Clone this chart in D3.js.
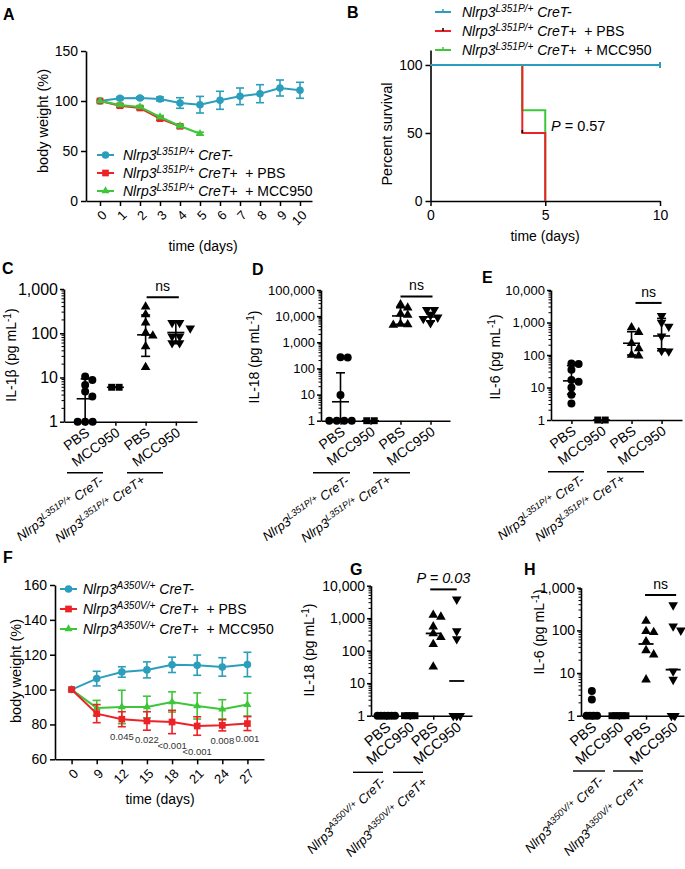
<!DOCTYPE html>
<html><head><meta charset="utf-8">
<script src="https://cdn.jsdelivr.net/npm/d3@7"></script>
<style>body{margin:0;background:#fff}svg{display:block}</style>
</head><body><svg id="fig" width="685" height="869"></svg>
<script>
const FONT="'Liberation Sans', Arial, Helvetica, sans-serif";
const CYAN="#2b9ebb", RED="#ec2226", GREEN="#3ec63a";

// ---------------- DATA ----------------
// Panel A  (body weight, %)
const daysA=[0,1,2,3,4,5,6,7,8,9,10];
const wA_neg=[100,102.7,103,102,98,96.3,100.7,104.7,107.3,113,110.7];
const sdA_neg=[0,1.2,1.2,2,5.3,8.3,9,8.3,9,8,8];
const wA_pbs=[100,95.3,93,82.3,74.7];
const sdA_pbs=[0,1.5,1.5,1.5,1.5];
const wA_mcc=[100,96,94,84,75,67.3];
const sdA_mcc=[0,1,1,1.5,1.5,1.5];
// Panel B (survival)
const tB_neg=[0,10], sB_neg=[100,100];
const tB_pbs=[0,4,5], sB_pbs=[100,50,0];
const tB_mcc=[0,4,5], sB_mcc=[100,66.7,0];
const ticksB_x=[0,5,10], ticksB_y=[0,50,100];
// x categories for cytokine panels
const catsX=["PBS","MCC950","PBS","MCC950"];
// Panel C IL-1b
const c_pbsNeg=[10.5,8.8,6.8,4.8,3.7,1,1,1];
const c_mccNeg=[6,6];
const c_pbsPos=[398,265,172,102,88,50,17];
const c_mccPos=[172,172,130,85,85,60,60];
const c_mean=[3.3,6,92,104], c_lo=[1,6,30,58], c_hi=[9.3,6,258,178];
// Panel D IL-18
const d_pbsNeg=[270,260,9.6,1,1,1,1];
const d_mccNeg=[1,1];
const d_pbsPos=[28000,21000,12400,11000,5000,4600,4800];
const d_mccPos=[17700,17700,10800,9000,8000,5500];
const d_mean=[5.3,1,10200,9300], d_lo=[1,1,4900,6600], d_hi=[68,1,21000,13800];
// Panel E IL-6
const e_pbsNeg=[55,53,35,17,15,10,6,3.2];
const e_mccNeg=[1,1];
const e_pbsPos=[700,500,230,160,100,95];
const e_mccPos=[1600,1000,750,380,135,130];
const e_mean=[16,1,230,385], e_lo=[6.2,1,100,135], e_hi=[47,1,520,1340];
// Panel F (A350V body weight)
const daysF=["0","9","12","15","18","21","24","27"];
const wF_neg=[100,106.3,110.1,111.3,114.2,114,113,114.4];
const sdF_neg=[0,4.2,3,4.6,4.4,5.8,5.3,7];
const wF_pbs=[100,86.2,83,82,81.4,79.1,79.5,80.5];
const sdF_pbs=[0,5.2,4.3,5.3,6.7,5.3,3.2,4];
const wF_mcc=[100,89.5,90,90,92.9,90.6,88.7,91.4];
const sdF_mcc=[0,4.3,9.6,6.2,5.8,7.5,5.5,6.6];
const pF=["","","0.045","0.022","<0.001","<0.001","0.008","0.001"];
const pF_at=[0,0,73.0,71.1,68.2,64.2,70.7,72.2];
// Panel G IL-18 (A350V)
const g_pbsNeg=[1,1,1,1,1,1];
const g_mccNeg=[1,1,1,1];
const g_pbsPos=[1250,1100,550,340,260,158,32];
const g_mccPos=[3800,400,230,1,1,1];
const g_median=[1,1,340,11.7];
// Panel H IL-6 (A350V)
const h_pbsNeg=[3.8,2.4,1,1,1,1];
const h_mccNeg=[1,1,1,1,1];
const h_pbsPos=[165,95,90,55,34,27,7];
const h_mccPos=[390,125,100,11,7,1,1];
const h_median=[1.15,1,48,12];

// ---------------- HELPERS ----------------
const svg=d3.select("#fig");
svg.append("rect").attr("width",685).attr("height",869).attr("fill","#fff");

function rich(sel,parts,fs){
  let shift=0;
  parts.forEach(([t,st])=>{
    const ts=sel.append("tspan").text(t);
    if(st.includes("i")) ts.attr("font-style","italic");
    const target=st.includes("s")?-fs*0.36:0;
    if(target!==shift){ts.attr("dy",target-shift);shift=target;}
    if(st.includes("s")) ts.attr("font-size",fs*0.72);
  });
}
function txt(g,x,y,fs,opts={}){
  const t=g.append("text").attr("x",x).attr("y",y).attr("font-size",fs)
    .attr("font-family",FONT).attr("fill",opts.fill||"#000");
  if(opts.anchor) t.attr("text-anchor",opts.anchor);
  if(opts.weight) t.attr("font-weight",opts.weight);
  if(opts.transform) t.attr("transform",opts.transform);
  return t;
}
function styleAxis(s,fs){
  s.attr("font-family",FONT);
  s.select(".domain").attr("stroke","#000").attr("stroke-width",1.6);
  s.selectAll(".tick line").attr("stroke","#000").attr("stroke-width",1.5);
  s.selectAll(".tick text").attr("font-size",fs||14).attr("fill","#000");
}
function rotLabels(ax,angle,dx,dy){
  ax.selectAll(".tick text").attr("x",0).attr("y",0).attr("dy",0)
    .attr("text-anchor","end").attr("transform",`translate(${dx},${dy}) rotate(${angle})`);
}
function sym(shape,size){
  const t={circle:d3.symbolCircle,square:d3.symbolSquare,tri:d3.symbolTriangle,itri:d3.symbolTriangle}[shape];
  return d3.symbol().type(t).size(size)();
}
function marker(g,shape,size,x,y,color){
  g.append("path").attr("d",sym(shape,size)).attr("fill",color)
   .attr("transform",`translate(${x},${y})${shape==="itri"?" rotate(180)":""}`);
}
function series(g,x,y,xs,ys,sd,color,shape,size){
  const line=d3.line().x((d,i)=>x(xs[i])).y(d=>y(d));
  g.append("path").datum(ys).attr("d",line).attr("fill","none").attr("stroke",color).attr("stroke-width",2);
  ys.forEach((v,i)=>{
    if(sd[i]>0){
      const cx=x(xs[i]);
      g.append("line").attr("x1",cx).attr("x2",cx).attr("y1",y(v-sd[i])).attr("y2",y(v+sd[i])).attr("stroke",color).attr("stroke-width",1.6);
      [v-sd[i],v+sd[i]].forEach(e=>g.append("line").attr("x1",cx-4).attr("x2",cx+4).attr("y1",y(e)).attr("y2",y(e)).attr("stroke",color).attr("stroke-width",1.6));
    }
  });
  ys.forEach((v,i)=>marker(g,shape,size,x(xs[i]),y(v),color));
}
const nl=(sup,suf,extra)=>{const p=[["Nlrp3","i"],[sup,"is"],[" CreT","i"],[suf,"i"]]; if(extra) p.push(["\u00a0\u00a0"+extra,"n"]); return p;};

// ---------------- PANEL A ----------------
{
  const g=svg.append("g");
  const x=d3.scaleLinear().domain([-0.7,10.6]).range([86,312]);
  const y=d3.scaleLinear().domain([0,150]).range([201,51]);
  g.append("g").attr("transform","translate(86,0)").call(d3.axisLeft(y).tickValues([0,50,100,150]).tickSize(5).tickPadding(3).tickSizeOuter(0)).call(styleAxis,14);
  const xa=g.append("g").attr("transform","translate(0,201)").call(d3.axisBottom(x).tickValues(daysA).tickSize(5).tickSizeOuter(0)).call(styleAxis,13);
  rotLabels(xa,-45,7,15);
  series(g,x,y,daysA,wA_neg,sdA_neg,CYAN,"circle",45);
  series(g,x,y,daysA.slice(0,wA_pbs.length),wA_pbs,sdA_pbs,RED,"square",45);
  series(g,x,y,daysA.slice(0,wA_mcc.length),wA_mcc,sdA_mcc,GREEN,"tri",28);
  txt(g,3,20,16,{weight:"bold"}).text("A");
  txt(g,0,0,14.5,{anchor:"middle",transform:"translate(48,121) rotate(-90)"}).text("body weight (%)");
  txt(g,203,251,14,{anchor:"middle"}).text("time (days)");
  const leg=[[CYAN,"circle",45,nl("L351P/+","-")],[RED,"square",45,nl("L351P/+","+","+ PBS")],[GREEN,"tri",28,nl("L351P/+","+","+ MCC950")]];
  leg.forEach(([c,s,sz,parts],i)=>{
    const ly=155+i*18;
    g.append("line").attr("x1",97).attr("x2",114).attr("y1",ly).attr("y2",ly).attr("stroke",c).attr("stroke-width",2);
    marker(g,s,sz,105.5,ly,c);
    rich(txt(g,123,ly+5,14),parts,14);
  });
}

// ---------------- PANEL B ----------------
{
  const g=svg.append("g");
  const x=d3.scaleLinear().domain([0,10]).range([430.5,660]);
  const y=d3.scaleLinear().domain([0,111]).range([201,50]);
  g.append("g").attr("transform","translate(430.5,0)").call(d3.axisLeft(y).tickValues(ticksB_y).tickSize(5).tickPadding(3).tickSizeOuter(0)).call(styleAxis,14);
  g.append("g").attr("transform","translate(0,201)").call(d3.axisBottom(x).tickValues(ticksB_x).tickSize(5).tickPadding(4).tickSizeOuter(0)).call(styleAxis,14);
  const step=(ts,ss)=>d3.line().curve(d3.curveStepAfter).x((d,i)=>x(ts[i])).y(d=>y(d))(ss);
  g.append("path").attr("d",step(tB_mcc,sB_mcc)).attr("fill","none").attr("stroke",GREEN).attr("stroke-width",2);
  g.append("path").attr("d",step(tB_pbs,sB_pbs)).attr("fill","none").attr("stroke",RED).attr("stroke-width",2);
  g.append("path").attr("d",step(tB_neg,sB_neg)).attr("fill","none").attr("stroke",CYAN).attr("stroke-width",2);
  g.append("line").attr("x1",x(10)).attr("x2",x(10)).attr("y1",y(100)-3).attr("y2",y(100)+3).attr("stroke",CYAN).attr("stroke-width",2);
  g.append("line").attr("x1",x(4)).attr("x2",x(4)).attr("y1",y(sB_pbs[1])-3).attr("y2",y(sB_pbs[1])).attr("stroke","#000").attr("stroke-width",1.6);
  txt(g,347,18,16,{weight:"bold"}).text("B");
  txt(g,0,0,14.5,{anchor:"middle",transform:"translate(392,134) rotate(-90)"}).text("Percent survival");
  txt(g,545,241,14,{anchor:"middle"}).text("time (days)");
  rich(txt(g,551,131,14.5),[["P","i"],[" = 0.57","n"]],14.5);
  const leg=[[CYAN,CYAN,nl("L351P/+","-")],[RED,"#000",nl("L351P/+","+","+ PBS")],[GREEN,GREEN,nl("L351P/+","+","+ MCC950")]];
  leg.forEach(([c,tc,parts],i)=>{
    const ly=12+i*19;
    g.append("line").attr("x1",435).attr("x2",451).attr("y1",ly).attr("y2",ly).attr("stroke",c).attr("stroke-width",2);
    g.append("line").attr("x1",443).attr("x2",443).attr("y1",ly-3).attr("y2",ly).attr("stroke",tc).attr("stroke-width",1.5);
    rich(txt(g,462,ly+5,14),parts,14);
  });
}

// ---------------- LOG SCATTER PANELS ----------------
function dodge(vals,yf,d,tie){
  const units=Array.from(d3.group(vals,v=>v),([v,arr])=>({v,n:arr.length,y:yf(v)})).sort((a,b)=>a.y-b.y);
  const placed=[];
  units.forEach(u=>{
    u.hw=(u.n-1)*tie/2+d/2;
    const cands=[0];for(let k=1;k<8;k++){cands.push(k*d*0.9,-k*d*0.9);}
    u.o=0;
    for(const o of cands){
      if(!placed.some(q=>Math.abs(q.y-u.y)<d*0.7&&Math.abs(q.o-o)<(q.hw+u.hw)*0.85)){u.o=o;break;}
    }
    placed.push(u);
  });
  const pts=[];
  units.forEach(u=>{for(let k=0;k<u.n;k++)pts.push({y:u.y,dx:u.o+(k-(u.n-1)/2)*tie});});
  return pts;
}
function logPanel(c){
  const g=svg.append("g");
  const y=d3.scaleLog().domain(c.ydom).range([c.yb,c.yt]);
  const x=d3.scalePoint().domain(d3.range(4)).range([c.xl,c.xr]).padding(c.pad);
  const ticks=[];for(let v=c.ydom[0];v<=c.ydom[1]*1.001;v*=10)ticks.push(v);
  g.append("g").attr("transform",`translate(${c.xl},0)`).call(d3.axisLeft(y).tickValues(ticks).tickFormat(d3.format(",")).tickSize(4).tickPadding(2).tickSizeOuter(0)).call(styleAxis,c.fs);
  ticks.slice(0,-1).forEach(t=>{for(let m=2;m<10;m++){g.append("line").attr("x1",c.xl-2.5).attr("x2",c.xl).attr("y1",y(t*m)).attr("y2",y(t*m)).attr("stroke","#000").attr("stroke-width",1);}});
  const xa=g.append("g").attr("transform",`translate(0,${c.yb})`).call(d3.axisBottom(x).tickFormat(i=>catsX[i]).tickSize(4).tickSizeOuter(0)).call(styleAxis,c.xfs);
  rotLabels(xa,c.ang,5,13);
  const shapes=["circle","square","tri","itri"], sizes=[50,48,40,40];
  c.groups.forEach((vals,i)=>{
    dodge(vals,y,c.d||8,c.tie).forEach(p=>marker(g,shapes[i],sizes[i],x(i)+p.dx,p.y,"#000"));
  });
  if(c.mean){
    c.mean.forEach((m,i)=>{
      const cx=x(i);
      g.append("line").attr("x1",cx).attr("x2",cx).attr("y1",y(c.lo[i])).attr("y2",y(c.hi[i])).attr("stroke","#000").attr("stroke-width",1.6);
      [c.lo[i],c.hi[i]].forEach(e=>{ if(e>c.ydom[0]) g.append("line").attr("x1",cx-4.5).attr("x2",cx+4.5).attr("y1",y(e)).attr("y2",y(e)).attr("stroke","#000").attr("stroke-width",1.6);});
      g.append("line").attr("x1",cx-8.5).attr("x2",cx+8.5).attr("y1",y(m)).attr("y2",y(m)).attr("stroke","#000").attr("stroke-width",1.6);
    });
  }
  if(c.median){
    c.median.forEach((m,i)=>{const cx=x(i);
      g.append("line").attr("x1",cx-7.5).attr("x2",cx+7.5).attr("y1",y(m)).attr("y2",y(m)).attr("stroke","#000").attr("stroke-width",1.8);});
  }
  const by=y(c.bracket.v);
  g.append("line").attr("x1",x(2)+c.bracket.a).attr("x2",x(3)+c.bracket.b).attr("y1",by).attr("y2",by).attr("stroke","#000").attr("stroke-width",2);
  const bt=txt(g,(x(2)+x(3))/2+c.bracket.a/2+c.bracket.b/2,by-6,c.bracket.fs||14,{anchor:"middle"});
  if(c.bracket.italic) bt.attr("font-style","italic");
  bt.text(c.bracket.label);
  c.glines.forEach((gl,k)=>{
    g.append("line").attr("x1",gl[0]).attr("x2",gl[1]).attr("y1",c.gy).attr("y2",c.gy).attr("stroke","#000").attr("stroke-width",1.4);
    rich(txt(g,0,0,c.gfs,{anchor:"end",transform:`translate(${c.glab[k][0]},${c.glab[k][1]}) rotate(${c.gang})`}),nl(c.sup,k===0?"-":"+"),c.gfs);
  });
  txt(g,c.lx[0],c.lx[1],16,{weight:"bold"}).text(c.letter);
  rich(txt(g,0,0,14,{anchor:"middle",transform:`translate(${c.yl[0]},${c.yl[1]}) rotate(-90)`}),[[c.ylab+" (pg mL","n"],["-1","s"],[")","n"]],14);
}

logPanel({letter:"C",lx:[2,274],xl:64,xr:197,yb:421.7,yt:289,ydom:[1,1000],pad:0.7,fs:16,xfs:14,ang:-36,tie:7.5,
  groups:[c_pbsNeg,c_mccNeg,c_pbsPos,c_mccPos],mean:c_mean,lo:c_lo,hi:c_hi,
  bracket:{v:650,a:1,b:3,label:"ns"},glines:[[67,103],[127,163]],gy:472.7,gfs:13,gang:-35,glab:[[104,483],[146,482]],
  sup:"L351P/+",ylab:"IL-1β",yl:[16,355]});
logPanel({letter:"D",lx:[252,275],xl:321,xr:450,yb:420.7,yt:290,ydom:[1,100000],pad:0.65,fs:13,xfs:14,ang:-36,tie:7.5,
  groups:[d_pbsNeg,d_mccNeg,d_pbsPos,d_mccPos],mean:d_mean,lo:d_lo,hi:d_hi,
  bracket:{v:57000,a:0,b:2,label:"ns"},glines:[[313,350],[373,410]],gy:472.7,gfs:13,gang:-35,glab:[[350,483],[392,482]],
  sup:"L351P/+",ylab:"IL-18",yl:[259,357]});
logPanel({letter:"E",lx:[482,283],xl:551,xr:682,yb:420,yt:290,ydom:[1,10000],pad:0.68,fs:13,xfs:14,ang:-36,tie:7.5,
  groups:[e_pbsNeg,e_mccNeg,e_pbsPos,e_mccPos],mean:e_mean,lo:e_lo,hi:e_hi,
  bracket:{v:4000,a:4,b:0,label:"ns"},glines:[[548,584],[607,644]],gy:471.7,gfs:13,gang:-35,glab:[[585,482],[626,481]],
  sup:"L351P/+",ylab:"IL-6",yl:[500,357]});
logPanel({letter:"G",lx:[350,575],xl:371,xr:472,yb:715.7,yt:585.7,ydom:[1,10000],pad:0.65,fs:14,xfs:14.5,ang:-40,tie:3.5,d:8.5,
  groups:[g_pbsNeg,g_mccNeg,g_pbsPos,g_mccPos],median:g_median,
  bracket:{v:7700,a:-3,b:0,label:"P = 0.03",italic:true,fs:14.5},glines:[[353,383],[393,423]],gy:772.3,gfs:13,gang:-44,glab:[[386,783],[428,783]],
  sup:"A350V/+",ylab:"IL-18",yl:[314,650]});
logPanel({letter:"H",lx:[524,575],xl:581,xr:684,yb:715.7,yt:587.7,ydom:[1,1000],pad:0.4,fs:14,xfs:14.5,ang:-40,tie:3.5,d:8.5,
  groups:[h_pbsNeg,h_mccNeg,h_pbsPos,h_mccPos],median:h_median,
  bracket:{v:675,a:-1,b:3,label:"ns"},glines:[[573,605],[613,643]],gy:771,gfs:13,gang:-44,glab:[[604,782],[646,782]],
  sup:"A350V/+",ylab:"IL-6",yl:[544,632]});

// ---------------- PANEL F ----------------
{
  const g=svg.append("g");
  const x=d3.scalePoint().domain(daysF).range([55,264]).padding(0.66);
  const y=d3.scaleLinear().domain([60,160]).range([759.3,585]);
  g.append("g").attr("transform","translate(55,0)").call(d3.axisLeft(y).tickValues([60,80,100,120,140,160]).tickSize(5).tickPadding(3).tickSizeOuter(0)).call(styleAxis,14);
  const xa=g.append("g").attr("transform","translate(0,759.3)").call(d3.axisBottom(x).tickSize(5).tickSizeOuter(0)).call(styleAxis,13);
  rotLabels(xa,-45,7,15);
  series(g,x,y,daysF,wF_neg,sdF_neg,CYAN,"circle",45);
  series(g,x,y,daysF,wF_mcc,sdF_mcc,GREEN,"tri",28);
  series(g,x,y,daysF,wF_pbs,sdF_pbs,RED,"square",45);
  pF.forEach((p,i)=>{ if(p) txt(g,x(daysF[i]),y(pF_at[i])+3.5,9.5,{anchor:"middle",fill:"#333"}).text(p); });
  txt(g,3,563,16,{weight:"bold"}).text("F");
  txt(g,0,0,14.5,{anchor:"middle",transform:"translate(21,671) rotate(-90)"}).text("body weight (%)");
  txt(g,160,804,14,{anchor:"middle"}).text("time (days)");
  const leg=[[CYAN,"circle",45,nl("A350V/+","-")],[RED,"square",45,nl("A350V/+","+","+ PBS")],[GREEN,"tri",28,nl("A350V/+","+","+ MCC950")]];
  leg.forEach(([c,s,sz,parts],i)=>{
    const ly=589+i*20;
    g.append("line").attr("x1",60).attr("x2",77).attr("y1",ly).attr("y2",ly).attr("stroke",c).attr("stroke-width",2);
    marker(g,s,sz,68.5,ly,c);
    rich(txt(g,83,ly+5,14),parts,14);
  });
}
</script></body></html>
